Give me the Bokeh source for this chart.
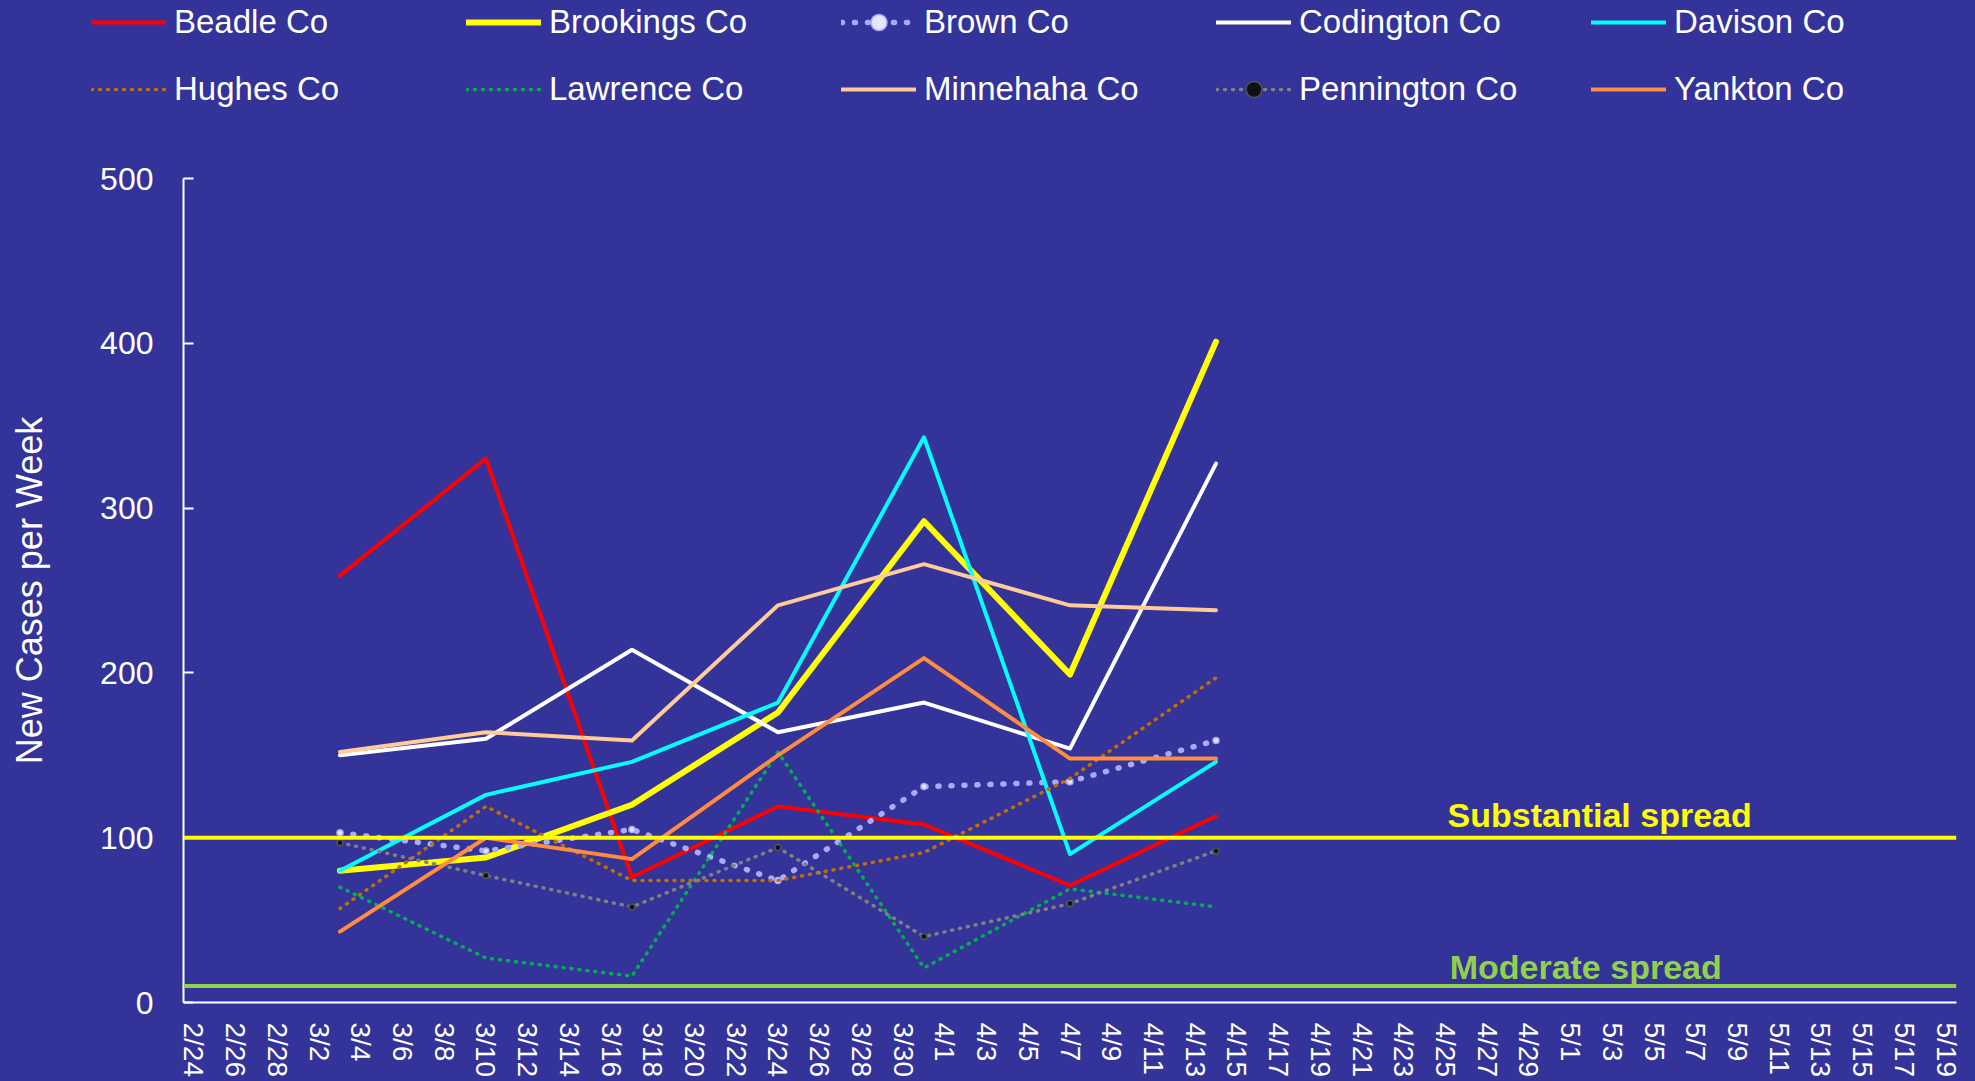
import pandas as pd
from bokeh.plotting import figure
from bokeh.layouts import column
from bokeh.models import FixedTicker, Legend, LegendItem, Span, Label, Range1d
from bokeh.embed import file_html
from bokeh.resources import INLINE

# ---------------- data ----------------
day_labels = [f"{d.month}/{d.day}" for d in pd.date_range("2021-02-24", "2021-05-19")]
tick_labels = day_labels[::2]
weeks = ["3/3", "3/10", "3/17", "3/24", "3/31", "4/7", "4/14"]

beadle = [259, 330, 76, 119, 108, 71, 113]
brookings = [80, 88, 120, 176, 292, 199, 401]
brown = [103, 92, 105, 74, 131, 134, 159]
codington = [150, 160, 214, 164, 182, 154, 327]
davison = [80, 126, 146, 182, 343, 90, 146]
hughes = [57, 119, 74, 74, 91, 136, 197]
lawrence = [70, 27, 16, 152, 21, 69, 58]
minnehaha = [152, 164, 159, 241, 266, 241, 238]
pennington = [97, 77, 58, 94, 40, 60, 92]
yankton = [43, 100, 87, 150, 209, 148, 148]

y_ticks = [0, 100, 200, 300, 400, 500]
substantial_level = 100
moderate_level = 10

BG = "#333399"
FONT = "Liberation Sans"

x_week = [day_labels.index(w) for w in weeks]

series = [
    ("Beadle Co", beadle, "#ff0000", 4, "solid", None),
    ("Brookings Co", brookings, "#ffff00", 6, "solid", None),
    ("Brown Co", brown, "#aaaaff", 5.5, "1 12", "brown"),
    ("Codington Co", codington, "#ffffff", 4, "solid", None),
    ("Davison Co", davison, "#00ffff", 4, "solid", None),
    ("Hughes Co", hughes, "#c07000", 3.5, "1 7", None),
    ("Lawrence Co", lawrence, "#00b050", 3.5, "1 7", None),
    ("Minnehaha Co", minnehaha, "#ffcc99", 4, "solid", None),
    ("Pennington Co", pennington, "#808080", 3.5, "1 7", "penn"),
    ("Yankton Co", yankton, "#ff8c40", 4, "solid", None),
]

TOP_H = 158
LEFT, RIGHT = 183, 19
BGSTYLE = {"background-color": BG}

# ---------------- legend strip (series drawn out of view, legend only) ----------------
top = figure(width=1975, height=TOP_H, output_backend="svg", toolbar_location=None,
             title_location=None, x_axis_location=None, y_axis_location=None,
             x_range=Range1d(-0.5, len(day_labels) - 0.5), y_range=Range1d(-1000, -999),
             min_border=0, min_border_left=0, min_border_right=0,
             min_border_top=0, min_border_bottom=0, styles=BGSTYLE,
             background_fill_color=BG, border_fill_color=BG, outline_line_color=None)
top.frame_align = False
top.grid.visible = False

# ---------------- main chart ----------------
p = figure(width=1975, height=1081 - TOP_H, output_backend="svg", toolbar_location=None,
           title_location=None,
           x_range=Range1d(-0.5, len(day_labels) - 0.5), y_range=Range1d(0, 500),
           min_border_left=LEFT, min_border_right=RIGHT, min_border_top=178 - TOP_H,
           min_border_bottom=79, styles=BGSTYLE,
           background_fill_color=BG, border_fill_color=BG, outline_line_color=None)
p.frame_align = False
p.grid.visible = False


def draw(fig, xs, vals, color, w, dash, mk):
    rs = [fig.line(xs, vals, line_color=color, line_width=w, line_dash=dash,
                   line_join="round", line_cap="round")]
    if mk == "brown":
        rs.append(fig.scatter(xs, vals, size=6, fill_color="#e6e6ff", line_color=color, line_width=1.5))
    elif mk == "penn":
        rs.append(fig.scatter(xs, vals, size=6, fill_color="#111111", line_color="#555555", line_width=1.5))
    return rs


items = []
for name, vals, color, w, dash, mk in series:
    draw(p, x_week, vals, color, w, dash, mk)
    rs = draw(top, x_week, vals, color, w, dash, mk)
    items.append(LegendItem(label=name, renderers=rs))

for its, vy in ((items[:5], TOP_H - 42), (items[5:], TOP_H - 109)):
    top.add_layout(Legend(items=its, orientation="horizontal", location=(91, vy),
                          glyph_width=75, glyph_height=40, label_height=40, label_width=292,
                          label_standoff=8, spacing=0, padding=0, margin=0,
                          border_line_color=None, background_fill_alpha=0,
                          label_text_color="#ffffff", label_text_font=FONT,
                          label_text_font_size="33px"))

p.add_layout(Span(location=substantial_level, dimension="width", line_color="#ffff00", line_width=4))
p.add_layout(Span(location=moderate_level, dimension="width", line_color="#92d050", line_width=4))

p.add_layout(Label(x=60.1, y=114, text="Substantial spread", text_color="#ffff00",
                   text_font=FONT, text_font_style="bold", text_font_size="34px",
                   text_baseline="alphabetic", text_align="left"))
p.add_layout(Label(x=60.2, y=21.5, text="Moderate spread", text_color="#92d050",
                   text_font=FONT, text_font_style="bold", text_font_size="34px",
                   text_baseline="alphabetic", text_align="left"))

# y axis
ya = p.yaxis[0]
ya.ticker = FixedTicker(ticks=y_ticks)
ya.major_tick_in = 10
ya.major_tick_out = 0
ya.minor_tick_in = 0
ya.minor_tick_out = 0
ya.axis_line_color = "#ffffff"
ya.axis_line_width = 2
ya.major_tick_line_color = "#ffffff"
ya.major_tick_line_width = 2
ya.major_label_text_color = "#ffffff"
ya.major_label_text_font = FONT
ya.major_label_text_font_size = "32px"
ya.major_label_standoff = 30
ya.axis_label = "New Cases per Week"
ya.axis_label_text_color = "#ffffff"
ya.axis_label_text_font = FONT
ya.axis_label_text_font_size = "36px"
ya.axis_label_text_font_style = "normal"
ya.axis_label_standoff = 47

# x axis
xa = p.xaxis[0]
xa.ticker = FixedTicker(ticks=list(range(0, len(day_labels), 2)))
xa.major_label_overrides = {i * 2: t for i, t in enumerate(tick_labels)}
xa.major_label_orientation = "vertical"
xa.major_tick_in = 0
xa.major_tick_out = 0
xa.minor_tick_in = 0
xa.minor_tick_out = 0
xa.axis_line_color = "#ffffff"
xa.axis_line_width = 2
xa.major_label_text_color = "#ffffff"
xa.major_label_text_font = FONT
xa.major_label_text_font_size = "28px"
xa.major_label_standoff = 20

layout = column(top, p, spacing=0, styles=BGSTYLE)
open("out.html", "w").write(file_html(layout, INLINE))
